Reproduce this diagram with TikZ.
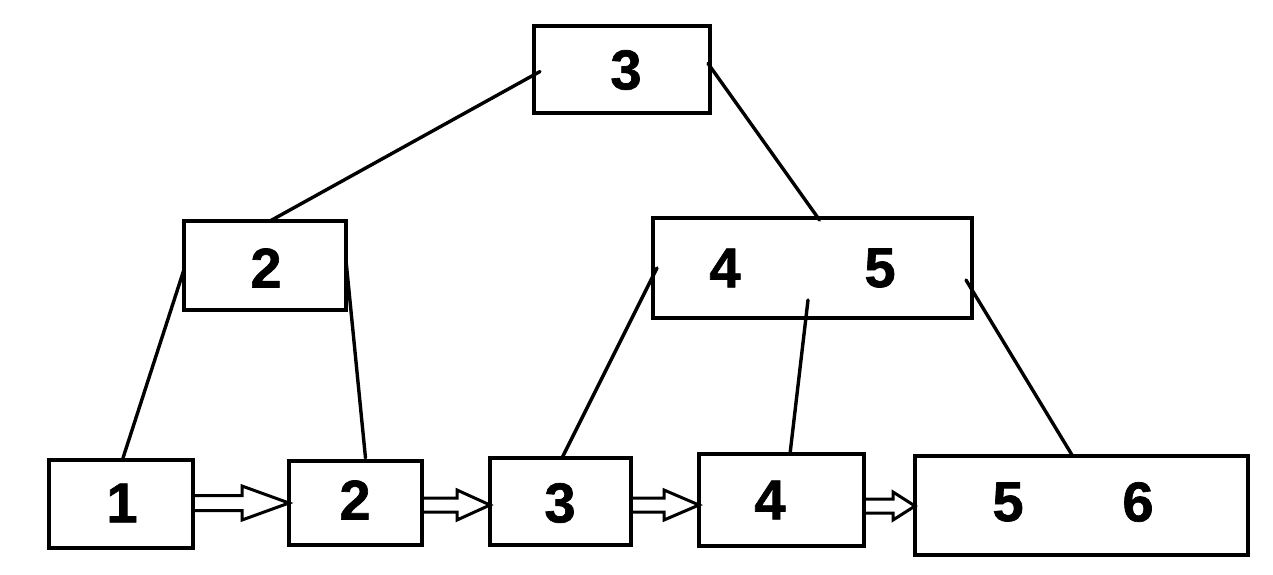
\documentclass[tikz,border=0pt]{standalone}
\usepackage{fontspec}
\setmainfont{Liberation Sans}
\newfontfamily\keyfont{Liberation Sans Bold}[FakeBold=1.2]
\usetikzlibrary{calc}
\begin{document}
\begin{tikzpicture}[x=1pt,y=-1pt,
  box/.style={draw=black,line width=3.6pt,fill=white,inner sep=0pt,outer sep=0pt},
  key/.style={font=\fontsize{56}{56}\keyfont,inner sep=0pt},
  edge/.style={line width=3.4pt,line cap=round},
  dbl/.style={line width=3pt,line join=miter}]
\useasboundingbox (0,0) rectangle (1273,574);
% boxes
\node[box,minimum width=176pt,minimum height=87pt] (root) at (622,69.5) {};
\node[box,minimum width=162pt,minimum height=89pt] (L) at (265,265.5) {};
\node[box,minimum width=319pt,minimum height=100pt] (R) at (812.5,268) {};
\node[box,minimum width=144pt,minimum height=88pt] (l1) at (121,504) {};
\node[box,minimum width=133pt,minimum height=84pt] (l2) at (355.5,503) {};
\node[box,minimum width=141pt,minimum height=87pt] (l3) at (560.5,501.5) {};
\node[box,minimum width=165pt,minimum height=92pt] (l4) at (781.5,500) {};
\node[box,minimum width=333pt,minimum height=99pt] (l5) at (1081.5,505.5) {};
% keys
\node[key] (k0) at (626,70) {3};
\node[key] (k1) at (266,268) {2};
\node[key] (k2) at (725,268) {4};
\node[key] (k3) at (880,268) {5};
\node[key] (k4) at (122,503) {1};
\node[key] (k5) at (355,500) {2};
\node[key] (k6) at (560,503) {3};
\node[key] (k7) at (770,500) {4};
\node[key] (k8) at (1008,502) {5};
\node[key] (k9) at (1138,502) {6};
% tree edges
\draw[edge] ([xshift=6pt,yshift=-2pt]root.west) -- ([xshift=5pt]L.north);
\draw[edge] ([xshift=-2pt,yshift=6pt]root.east) -- ([xshift=7pt,yshift=-2pt]R.north);
\draw[edge] ([yshift=-4pt]L.west) -- ([xshift=2pt,yshift=2pt]l1.north);
\draw[edge] ([yshift=5pt]L.east) -- ([xshift=10pt,yshift=3pt]l2.north);
\draw[edge] ([xshift=4pt]R.west) -- ([xshift=1.5pt]l3.north);
\draw[edge] ([xshift=-4.5pt,yshift=18pt]R.south) -- ([xshift=8.5pt]l4.north);
\draw[edge] ([xshift=-6pt,yshift=-12pt]R.east) -- ([xshift=-9.5pt,yshift=1pt]l5.north);
% leaf links (hollow double arrows)
\draw[dbl] let \p1=(l1.east), \p2=(l2.west) in
  (\x1,503-7.5) -- (\x2-47,503-7.5) -- (\x2-47,503-17) -- (\x2,503) -- (\x2-47,503+17) -- (\x2-47,503+7.5) -- (\x1,503+7.5);
\draw[dbl] let \p1=(l2.east), \p2=(l3.west) in
  (\x1,505-7) -- (\x2-33,505-7) -- (\x2-33,505-15) -- (\x2,505) -- (\x2-33,505+15) -- (\x2-33,505+7) -- (\x1,505+7);
\draw[dbl] let \p1=(l3.east), \p2=(l4.west) in
  (\x1,505-7) -- (\x2-35,505-7) -- (\x2-35,505-15) -- (\x2,505) -- (\x2-35,505+15) -- (\x2-35,505+7) -- (\x1,505+7);
\draw[dbl] let \p1=(l4.east), \p2=(l5.west) in
  (\x1,506-7) -- (\x2-22,506-7) -- (\x2-22,506-14) -- (\x2,506) -- (\x2-22,506+14) -- (\x2-22,506+7) -- (\x1,506+7);
\end{tikzpicture}
\end{document}
